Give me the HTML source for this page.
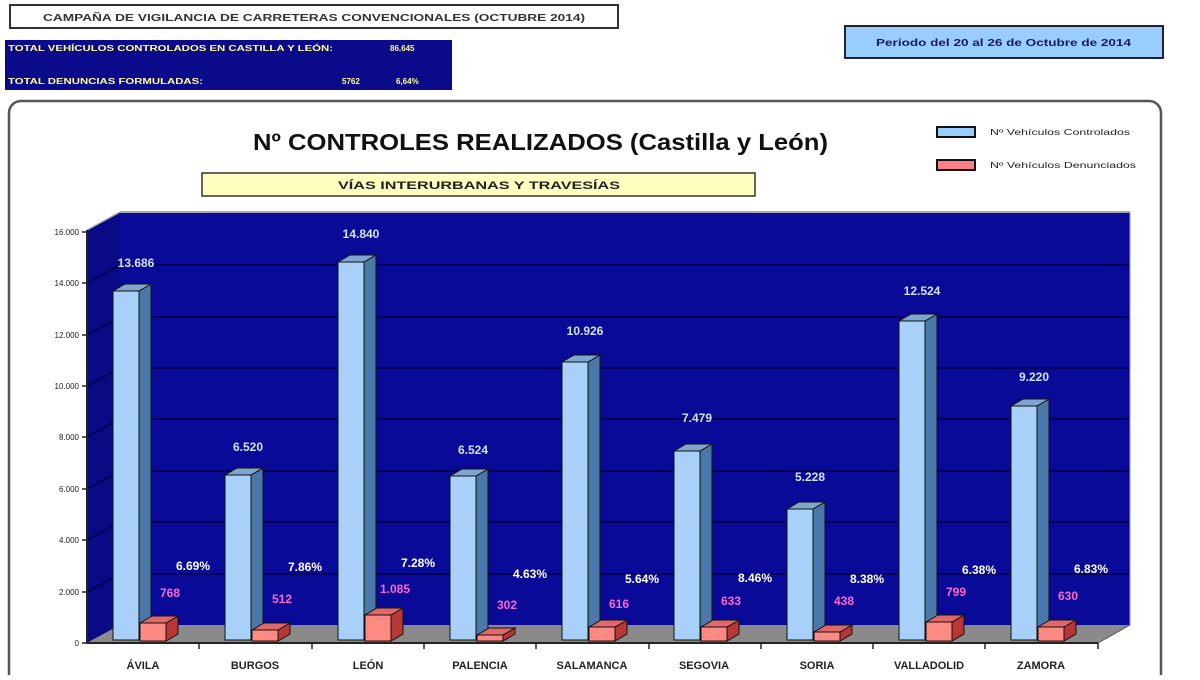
<!DOCTYPE html>
<html><head><meta charset="utf-8"><style>
html,body{margin:0;padding:0;background:#fff;}
body{width:1200px;height:675px;overflow:hidden;position:relative;font-family:"Liberation Sans",Arial,sans-serif;}
</style></head><body>
<svg width="1200" height="675" viewBox="0 0 1200 675" xmlns="http://www.w3.org/2000/svg" font-family="Liberation Sans, Arial, sans-serif">
<rect x="10" y="5" width="608" height="23" fill="#fff" stroke="#333" stroke-width="2"/>
<text x="43" y="21" textLength="542" lengthAdjust="spacingAndGlyphs" font-size="10" font-weight="bold" fill="#333">CAMPAÑA DE VIGILANCIA DE CARRETERAS CONVENCIONALES (OCTUBRE 2014)</text>
<rect x="5" y="40" width="447" height="50" fill="#0a0a8a"/>
<text x="8" y="51" textLength="325" lengthAdjust="spacingAndGlyphs" font-size="8" font-weight="bold" fill="#ffff99">TOTAL VEHÍCULOS CONTROLADOS EN CASTILLA Y LEÓN:</text>
<text x="390" y="51" font-size="8" font-weight="bold" fill="#ffff99">86.645</text>
<text x="8" y="84" textLength="195" lengthAdjust="spacingAndGlyphs" font-size="8" font-weight="bold" fill="#ffff99">TOTAL DENUNCIAS FORMULADAS:</text>
<text x="342" y="84" font-size="8" font-weight="bold" fill="#ffff99">5762</text>
<text x="396" y="84" font-size="8" font-weight="bold" fill="#ffff99">6,64%</text>
<rect x="845" y="26" width="318" height="32" fill="#99ccff" stroke="#223" stroke-width="2"/>
<text x="876" y="46" textLength="255" lengthAdjust="spacingAndGlyphs" font-size="10" font-weight="bold" fill="#1a1a60">Periodo del 20 al 26 de Octubre de 2014</text>

<rect x="9" y="101" width="1152" height="600" rx="12" fill="#fff" stroke="#555" stroke-width="2.5"/>
<text x="253" y="150" textLength="575" lengthAdjust="spacingAndGlyphs" font-size="23" font-weight="bold" fill="#111">Nº CONTROLES REALIZADOS (Castilla y León)</text>
<rect x="202" y="173" width="553" height="23" fill="#ffffc0" stroke="#333" stroke-width="1.5"/>
<text x="338" y="189" textLength="282" lengthAdjust="spacingAndGlyphs" font-size="11" font-weight="bold" fill="#222">VÍAS INTERURBANAS  Y TRAVESÍAS</text>
<rect x="937" y="127" width="38" height="10" fill="#99ccff" stroke="#111" stroke-width="2"/>
<text x="990" y="135" textLength="140" lengthAdjust="spacingAndGlyphs" font-size="8" fill="#222">Nº Vehículos Controlados</text>
<rect x="937" y="160" width="38" height="10" fill="#ff7f86" stroke="#111" stroke-width="2"/>
<text x="990" y="168" textLength="146" lengthAdjust="spacingAndGlyphs" font-size="8" fill="#222">Nº Vehículos Denunciados</text>

<!-- walls -->
<polygon points="120,212 1130,212 1130,625 120,625" fill="#0a0a98"/>
<polygon points="87,230 120,212 120,625 87,643" fill="#0a0a84"/>
<polygon points="87,643 120,625 1130,625 1098,643" fill="#8a8a8a"/>
<g stroke="#00005a" stroke-width="2">
<line x1="120" y1="574" x2="1130" y2="574"/><line x1="120" y1="522" x2="1130" y2="522"/>
<line x1="120" y1="471" x2="1130" y2="471"/><line x1="120" y1="419" x2="1130" y2="419"/>
<line x1="120" y1="368" x2="1130" y2="368"/><line x1="120" y1="317" x2="1130" y2="317"/>
<line x1="120" y1="265" x2="1130" y2="265"/>
<line x1="87" y1="592" x2="120" y2="574"/><line x1="87" y1="540" x2="120" y2="522"/>
<line x1="87" y1="489" x2="120" y2="471"/><line x1="87" y1="437" x2="120" y2="419"/>
<line x1="87" y1="386" x2="120" y2="368"/><line x1="87" y1="335" x2="120" y2="317"/>
<line x1="87" y1="283" x2="120" y2="265"/>
</g>
<line x1="120" y1="212" x2="1130" y2="212" stroke="#aab" stroke-width="2"/>
<line x1="87" y1="230" x2="120" y2="212" stroke="#aab" stroke-width="1.5"/>
<line x1="1130" y1="212" x2="1130" y2="625" stroke="#99a" stroke-width="1"/>
<line x1="1098" y1="643" x2="1130" y2="625" stroke="#555" stroke-width="1"/>
<line x1="87" y1="230" x2="87" y2="643" stroke="#222" stroke-width="2"/>
<line x1="87" y1="643" x2="1098" y2="643" stroke="#222" stroke-width="2"/>
<g stroke="#222" stroke-width="1.5">
<line x1="82" y1="643" x2="87" y2="643"/><line x1="82" y1="592" x2="87" y2="592"/><line x1="82" y1="540" x2="87" y2="540"/>
<line x1="82" y1="489" x2="87" y2="489"/><line x1="82" y1="437" x2="87" y2="437"/><line x1="82" y1="386" x2="87" y2="386"/>
<line x1="82" y1="335" x2="87" y2="335"/><line x1="82" y1="283" x2="87" y2="283"/><line x1="82" y1="232" x2="87" y2="232"/>
<line x1="199" y1="643" x2="199" y2="649"/><line x1="312" y1="643" x2="312" y2="649"/><line x1="424" y1="643" x2="424" y2="649"/>
<line x1="536" y1="643" x2="536" y2="649"/><line x1="649" y1="643" x2="649" y2="649"/><line x1="761" y1="643" x2="761" y2="649"/>
<line x1="873" y1="643" x2="873" y2="649"/><line x1="985" y1="643" x2="985" y2="649"/><line x1="1098" y1="643" x2="1098" y2="649"/>
</g>
<g font-size="8" fill="#222" text-anchor="end">
<text x="79" y="646">0</text><text x="79" y="595">2.000</text><text x="79" y="543">4.000</text>
<text x="79" y="492">6.000</text><text x="79" y="440">8.000</text><text x="79" y="389">10.000</text>
<text x="79" y="338">12.000</text><text x="79" y="286">14.000</text><text x="79" y="235">16.000</text>
</g>

<!-- bars -->
<g stroke="#111" stroke-width="1">
<g transform="translate(113,0)"><polygon points="26,291 38,284 38,633 26,640" fill="#4a78a8"/><polygon points="0,291 12,284 38,284 26,291" fill="#7ea6d0"/><rect x="0" y="291" width="26" height="349" fill="#a8d0f8"/></g>
<g transform="translate(225,0)"><polygon points="26,475 38,468 38,633 26,640" fill="#4a78a8"/><polygon points="0,475 12,468 38,468 26,475" fill="#7ea6d0"/><rect x="0" y="475" width="26" height="165" fill="#a8d0f8"/></g>
<g transform="translate(338,0)"><polygon points="26,262 38,255 38,633 26,640" fill="#4a78a8"/><polygon points="0,262 12,255 38,255 26,262" fill="#7ea6d0"/><rect x="0" y="262" width="26" height="378" fill="#a8d0f8"/></g>
<g transform="translate(450,0)"><polygon points="26,476 38,469 38,633 26,640" fill="#4a78a8"/><polygon points="0,476 12,469 38,469 26,476" fill="#7ea6d0"/><rect x="0" y="476" width="26" height="164" fill="#a8d0f8"/></g>
<g transform="translate(562,0)"><polygon points="26,362 38,355 38,633 26,640" fill="#4a78a8"/><polygon points="0,362 12,355 38,355 26,362" fill="#7ea6d0"/><rect x="0" y="362" width="26" height="278" fill="#a8d0f8"/></g>
<g transform="translate(674,0)"><polygon points="26,451 38,444 38,633 26,640" fill="#4a78a8"/><polygon points="0,451 12,444 38,444 26,451" fill="#7ea6d0"/><rect x="0" y="451" width="26" height="189" fill="#a8d0f8"/></g>
<g transform="translate(787,0)"><polygon points="26,509 38,502 38,633 26,640" fill="#4a78a8"/><polygon points="0,509 12,502 38,502 26,509" fill="#7ea6d0"/><rect x="0" y="509" width="26" height="131" fill="#a8d0f8"/></g>
<g transform="translate(899,0)"><polygon points="26,321 38,314 38,633 26,640" fill="#4a78a8"/><polygon points="0,321 12,314 38,314 26,321" fill="#7ea6d0"/><rect x="0" y="321" width="26" height="319" fill="#a8d0f8"/></g>
<g transform="translate(1011,0)"><polygon points="26,406 38,399 38,633 26,640" fill="#4a78a8"/><polygon points="0,406 12,399 38,399 26,406" fill="#7ea6d0"/><rect x="0" y="406" width="26" height="234" fill="#a8d0f8"/></g>

<g transform="translate(140,0)"><polygon points="26,623 38,616 38,634 26,641" fill="#b83838"/><polygon points="0,623 12,616 38,616 26,623" fill="#e06868"/><rect x="0" y="623" width="26" height="18" fill="#ff8a84"/></g>
<g transform="translate(252,0)"><polygon points="26,630 38,623 38,634 26,641" fill="#b83838"/><polygon points="0,630 12,623 38,623 26,630" fill="#e06868"/><rect x="0" y="630" width="26" height="11" fill="#ff8a84"/></g>
<g transform="translate(365,0)"><polygon points="26,615 38,608 38,634 26,641" fill="#b83838"/><polygon points="0,615 12,608 38,608 26,615" fill="#e06868"/><rect x="0" y="615" width="26" height="26" fill="#ff8a84"/></g>
<g transform="translate(477,0)"><polygon points="26,635 38,628 38,634 26,641" fill="#b83838"/><polygon points="0,635 12,628 38,628 26,635" fill="#e06868"/><rect x="0" y="635" width="26" height="6" fill="#ff8a84"/></g>
<g transform="translate(589,0)"><polygon points="26,627 38,620 38,634 26,641" fill="#b83838"/><polygon points="0,627 12,620 38,620 26,627" fill="#e06868"/><rect x="0" y="627" width="26" height="14" fill="#ff8a84"/></g>
<g transform="translate(701,0)"><polygon points="26,627 38,620 38,634 26,641" fill="#b83838"/><polygon points="0,627 12,620 38,620 26,627" fill="#e06868"/><rect x="0" y="627" width="26" height="14" fill="#ff8a84"/></g>
<g transform="translate(814,0)"><polygon points="26,632 38,625 38,634 26,641" fill="#b83838"/><polygon points="0,632 12,625 38,625 26,632" fill="#e06868"/><rect x="0" y="632" width="26" height="9" fill="#ff8a84"/></g>
<g transform="translate(926,0)"><polygon points="26,622 38,615 38,634 26,641" fill="#b83838"/><polygon points="0,622 12,615 38,615 26,622" fill="#e06868"/><rect x="0" y="622" width="26" height="19" fill="#ff8a84"/></g>
<g transform="translate(1038,0)"><polygon points="26,627 38,620 38,634 26,641" fill="#b83838"/><polygon points="0,627 12,620 38,620 26,627" fill="#e06868"/><rect x="0" y="627" width="26" height="14" fill="#ff8a84"/></g>
</g>

<!-- value labels -->
<g font-size="12" font-weight="bold" fill="#cfe4ff" text-anchor="middle">
<text x="136" y="267">13.686</text><text x="248" y="451">6.520</text><text x="361" y="238">14.840</text>
<text x="473" y="454">6.524</text><text x="585" y="335">10.926</text><text x="697" y="422">7.479</text>
<text x="810" y="481">5.228</text><text x="922" y="295">12.524</text><text x="1034" y="381">9.220</text>
</g>
<g font-size="12" font-weight="bold" fill="#ffffff" text-anchor="middle">
<text x="193" y="570">6.69%</text><text x="305" y="571">7.86%</text><text x="418" y="567">7.28%</text>
<text x="530" y="578">4.63%</text><text x="642" y="583">5.64%</text><text x="755" y="582">8.46%</text>
<text x="867" y="583">8.38%</text><text x="979" y="574">6.38%</text><text x="1091" y="573">6.83%</text>
</g>
<g font-size="12" font-weight="bold" fill="#ff66cc" text-anchor="middle">
<text x="170" y="597">768</text><text x="282" y="603">512</text><text x="395" y="593">1.085</text>
<text x="507" y="609">302</text><text x="619" y="608">616</text><text x="731" y="605">633</text>
<text x="844" y="605">438</text><text x="956" y="596">799</text><text x="1068" y="600">630</text>
</g>
<g font-size="11" font-weight="bold" fill="#222" text-anchor="middle">
<text x="143" y="669">ÁVILA</text><text x="255" y="669">BURGOS</text><text x="368" y="669">LEÓN</text>
<text x="480" y="669">PALENCIA</text><text x="592" y="669">SALAMANCA</text><text x="704" y="669">SEGOVIA</text>
<text x="817" y="669">SORIA</text><text x="929" y="669">VALLADOLID</text><text x="1041" y="669">ZAMORA</text>
</g>
</svg>
</body></html>
